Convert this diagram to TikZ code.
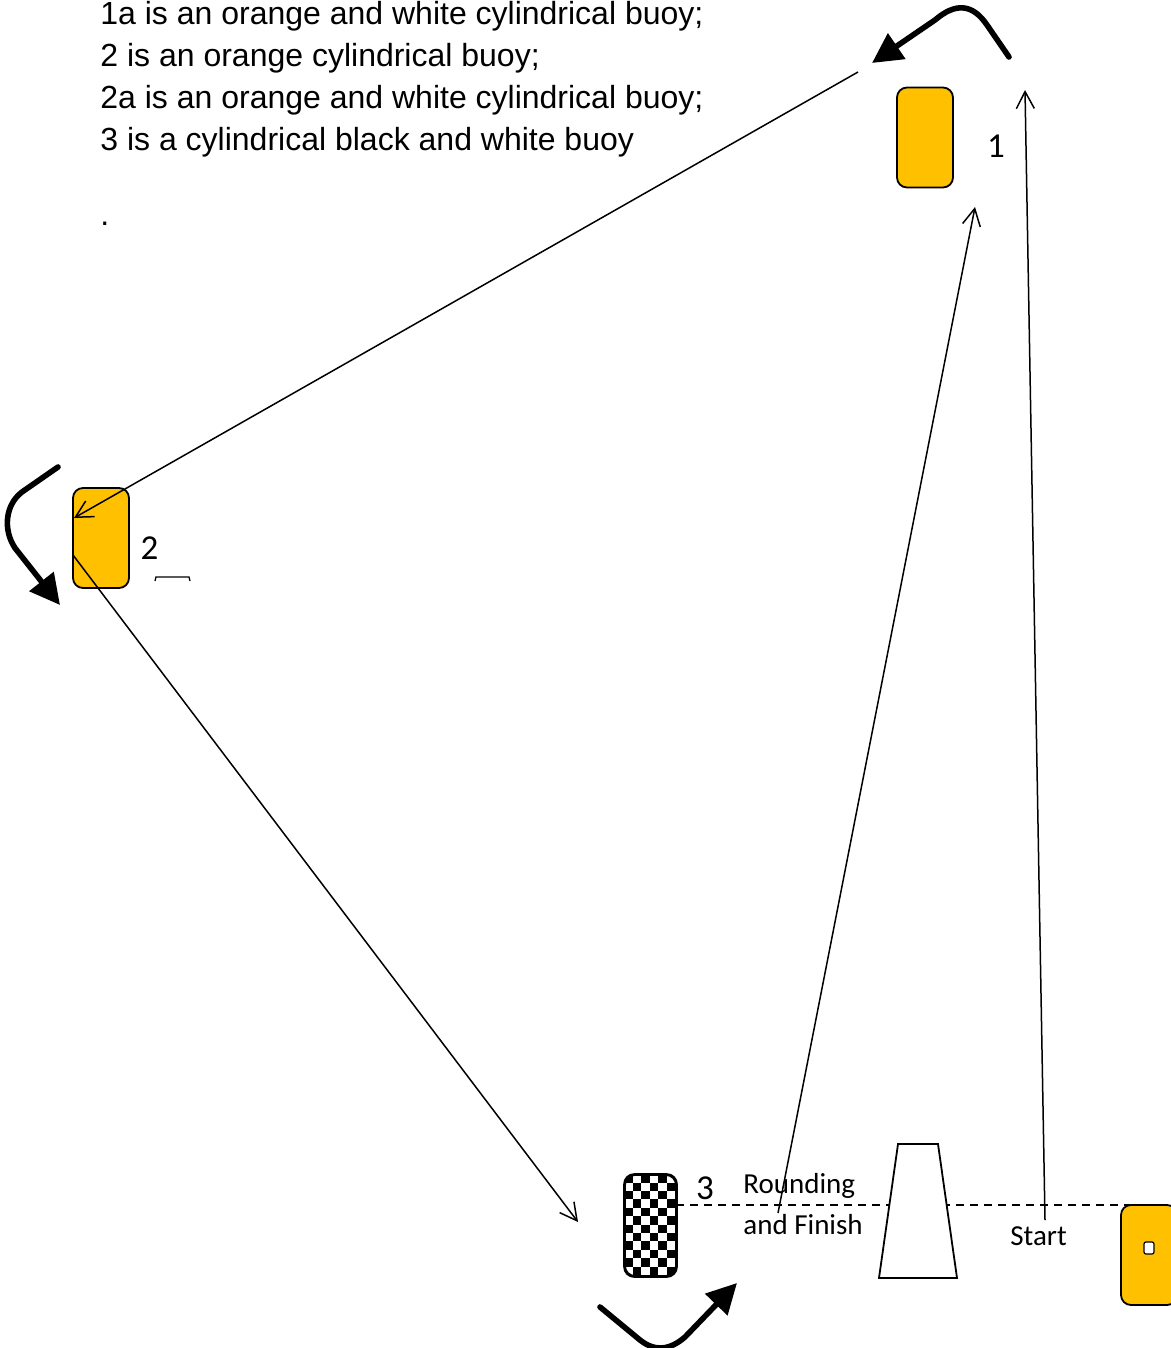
\documentclass[tikz,border=0pt]{standalone}
\usepackage{fontspec}
\setmainfont{Liberation Sans}
\newfontfamily\calfont{Carlito}
\usetikzlibrary{arrows.meta}
\definecolor{buoyorange}{HTML}{FFC000}
\tikzset{
  buoy/.style={draw, line width=0.9pt, fill=buoyorange, rounded corners=5pt,
    minimum width=28pt, minimum height=50pt, inner sep=0pt},
  course/.style={line width=0.75pt, -{Straight Barb[length=8.5pt,width=9pt]}},
  rounding/.style={line width=2.8pt, line cap=round, -{Triangle[length=15pt,width=15pt]}},
  note/.style={font=\fontsize{16}{20}\selectfont, anchor=base west, inner sep=0pt},
  numlabel/.style={font=\calfont\fontsize{17.5}{20}\selectfont, inner sep=0pt},
  caption/.style={font=\calfont\fontsize{14.5}{17}\selectfont, anchor=base west, inner sep=0pt}
}
\begin{document}
\begin{tikzpicture}[x=0.5pt,y=-0.5pt]
\useasboundingbox (0,0) rectangle (1171,1348);
% legend
\foreach \txt [count=\k] in {1a is an orange and white cylindrical buoy;,
  2 is an orange cylindrical buoy;, 2a is an orange and white cylindrical buoy;,
  3 is a cylindrical black and white buoy}
  \node[note] (note\k) at (100,{25+41.7*(\k-1)}) {\txt};
\node[note] (dot) at (100,226) {.};
% start / finish line
\coordinate (lineA) at (662,1205);
\coordinate (lineB) at (1130,1205);
\draw[line width=0.75pt, dash pattern=on 4pt off 3pt] (lineA) -- (lineB);
% committee boat
\draw[line width=0.9pt, fill=white] (898,1144) -- (938,1144) -- (957,1278) -- (879,1278) -- cycle;
% buoys
\node[buoy] (b1) at (925,137.5) {};
\node[numlabel] (n1) at (996,146) {1};
\node[buoy] (b2) at (101,538) {};
\node[numlabel] (n2) at (149.5,548) {2};
\draw[line width=0.65pt] (155,581) -- (156,577) -- (189,577) -- (190,581);
\node[buoy, fill=white, minimum width=25.5pt, minimum height=50.5pt] (b3) at (650.5,1225.5) {};
\begin{scope}
  \clip[rounded corners=5pt] (b3.north west) rectangle (b3.south east);
  \foreach \i in {0,...,5}
    \foreach \j in {0,...,11} {
      \pgfmathtruncatemacro\chk{mod(\i+\j,2)}
      \ifnum\chk=0
        \fill[shift={(b3.north west)}] (\i*8.5,\j*8.42) rectangle ++(8.5,8.42);
      \fi
    }
\end{scope}
\draw[line width=0.9pt, rounded corners=5pt] (b3.north west) rectangle (b3.south east);
\node[numlabel] (n3) at (705,1188) {3};
\node[buoy] (bs) at (1149,1255) {};
\node[draw, line width=0.6pt, fill=white, rounded corners=1pt, minimum width=5pt,
  minimum height=6pt, inner sep=0pt] (pin) at (1149,1248) {};
% texts on the line
\node[caption] (round) at (743,1193) {Rounding};
\node[caption] (finish) at (743,1234) {and Finish};
\node[caption] (start) at (1010,1245) {Start};
% course legs
\coordinate (startpt) at (1045,1220);
\coordinate (tip1) at (1025,90);
\coordinate (finpt) at (778,1213);
\coordinate (tip1b) at (975,207);
\coordinate (from1) at (858,72);
\coordinate (tip2) at (74,518);
\coordinate (from2) at (73,555);
\coordinate (tip3) at (578,1222);
\draw[course] (startpt) -- (tip1);
\draw[course] (finpt) -- (tip1b);
\draw[course] (from1) -- (tip2);
\draw[course] (from2) -- (tip3);
% rounding directions
\draw[rounding] (1009,57) -- (987,25) .. controls (972,3) and (955,3) .. (935,20) -- (872,63);
\draw[rounding] (58,467) -- (22,492) .. controls (5,505) and (3,530) .. (15,548) -- (60,605);
\draw[rounding] (600,1307) -- (640,1340) .. controls (655,1352) and (670,1350) .. (685,1337) -- (737,1283);
\end{tikzpicture}
\end{document}
